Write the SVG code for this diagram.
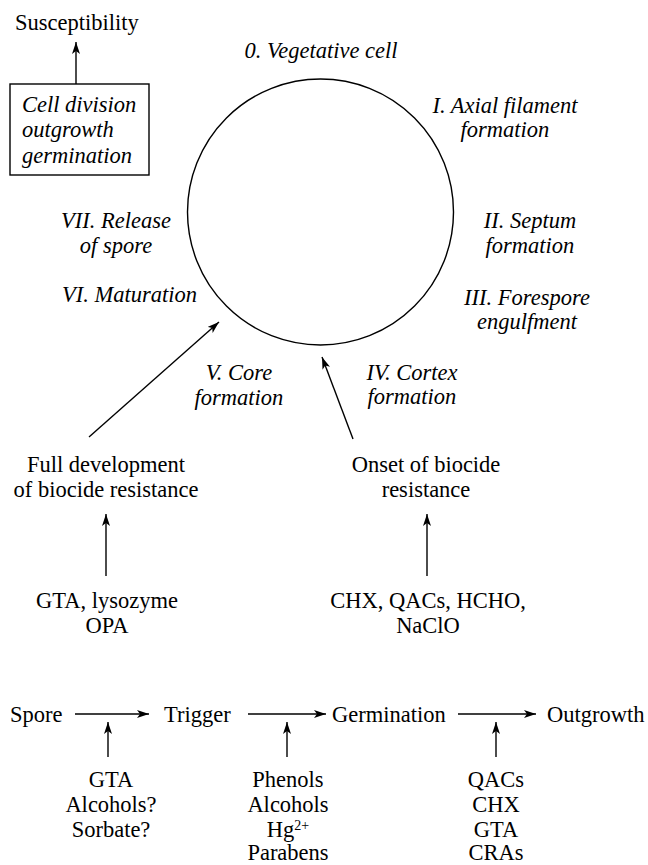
<svg xmlns="http://www.w3.org/2000/svg" width="648" height="865" viewBox="0 0 648 865">
<style>
text{font-family:"Liberation Serif","Times New Roman",serif;font-size:22.5px;fill:#000}
.i{font-style:italic}
.c{text-anchor:middle}
.ln{stroke:#000;stroke-width:1.4;fill:none}
</style>
<defs>
<marker id="ah" markerUnits="userSpaceOnUse" markerWidth="14" markerHeight="10" refX="12" refY="4" orient="auto">
<path d="M0,0 L12,4 L0,8 L3,4 z" fill="#000"/>
</marker>
</defs>
<rect width="648" height="865" fill="#fff"/>

<g id="susceptibility"><text x="15" y="30">Susceptibility</text></g>
<g id="box">
<rect x="10" y="84" width="139" height="91" class="ln"/>
<text class="i" x="22" y="112">Cell division</text>
<text class="i" x="22" y="137">outgrowth</text>
<text class="i" x="22" y="163">germination</text>
</g>
<g id="cycle"><circle cx="320.5" cy="212" r="133" class="ln"/></g>
<g id="s0"><text class="i c" x="321" y="58">0. Vegetative cell</text></g>
<g id="s1"><text class="i c" x="505" y="113">I. Axial filament</text><text class="i c" x="505" y="137">formation</text></g>
<g id="s2"><text class="i c" x="530" y="228">II. Septum</text><text class="i c" x="530" y="253">formation</text></g>
<g id="s3"><text class="i c" x="527" y="305">III. Forespore</text><text class="i c" x="527" y="329">engulfment</text></g>
<g id="s4"><text class="i c" x="412" y="380">IV. Cortex</text><text class="i c" x="412" y="404">formation</text></g>
<g id="s5"><text class="i c" x="239" y="380">V. Core</text><text class="i c" x="239" y="405">formation</text></g>
<g id="s6"><text class="i" x="62" y="302">VI. Maturation</text></g>
<g id="s7"><text class="i c" x="116" y="228">VII. Release</text><text class="i c" x="116" y="253">of spore</text></g>
<g id="full"><text class="c" x="106" y="472">Full development</text><text class="c" x="106" y="497">of biocide resistance</text></g>
<g id="onset"><text class="c" x="426" y="472">Onset of biocide</text><text class="c" x="426" y="497">resistance</text></g>
<g id="agents1"><text class="c" x="107" y="608">GTA, lysozyme</text><text class="c" x="107" y="633">OPA</text></g>
<g id="agents2"><text class="c" x="428" y="608">CHX, QACs, HCHO,</text><text class="c" x="428" y="633">NaClO</text></g>
<g id="spore"><text x="10" y="722">Spore</text></g>
<g id="trigger"><text x="164" y="722">Trigger</text></g>
<g id="germination"><text x="332" y="722">Germination</text></g>
<g id="outgrowth"><text x="547" y="722">Outgrowth</text></g>
<g id="agents3"><text class="c" x="111" y="787">GTA</text><text class="c" x="111" y="812">Alcohols?</text><text class="c" x="111" y="837">Sorbate?</text></g>
<g id="agents4"><text class="c" x="288" y="787">Phenols</text><text class="c" x="288" y="812">Alcohols</text><text class="c" x="288" y="837">Hg<tspan font-size="14" dy="-7">2+</tspan></text><text class="c" x="288" y="860">Parabens</text></g>
<g id="agents5"><text class="c" x="496" y="787">QACs</text><text class="c" x="496" y="812">CHX</text><text class="c" x="496" y="837">GTA</text><text class="c" x="496" y="860">CRAs</text></g>

<g id="connectors">
<line class="ln" x1="76" y1="84" x2="76" y2="42" marker-end="url(#ah)"/>
<line class="ln" x1="89" y1="437" x2="219" y2="322" marker-end="url(#ah)"/>
<line class="ln" x1="353" y1="439" x2="322" y2="357" marker-end="url(#ah)"/>
<line class="ln" x1="106" y1="576" x2="106" y2="514" marker-end="url(#ah)"/>
<line class="ln" x1="427" y1="576" x2="427" y2="514" marker-end="url(#ah)"/>
<line class="ln" x1="75" y1="714" x2="149" y2="714" marker-end="url(#ah)"/>
<line class="ln" x1="248" y1="714" x2="326" y2="714" marker-end="url(#ah)"/>
<line class="ln" x1="458" y1="714" x2="536" y2="714" marker-end="url(#ah)"/>
<line class="ln" x1="108" y1="757" x2="108" y2="722" marker-end="url(#ah)"/>
<line class="ln" x1="287" y1="757" x2="287" y2="722" marker-end="url(#ah)"/>
<line class="ln" x1="496" y1="757" x2="496" y2="722" marker-end="url(#ah)"/>
</g>
</svg>
